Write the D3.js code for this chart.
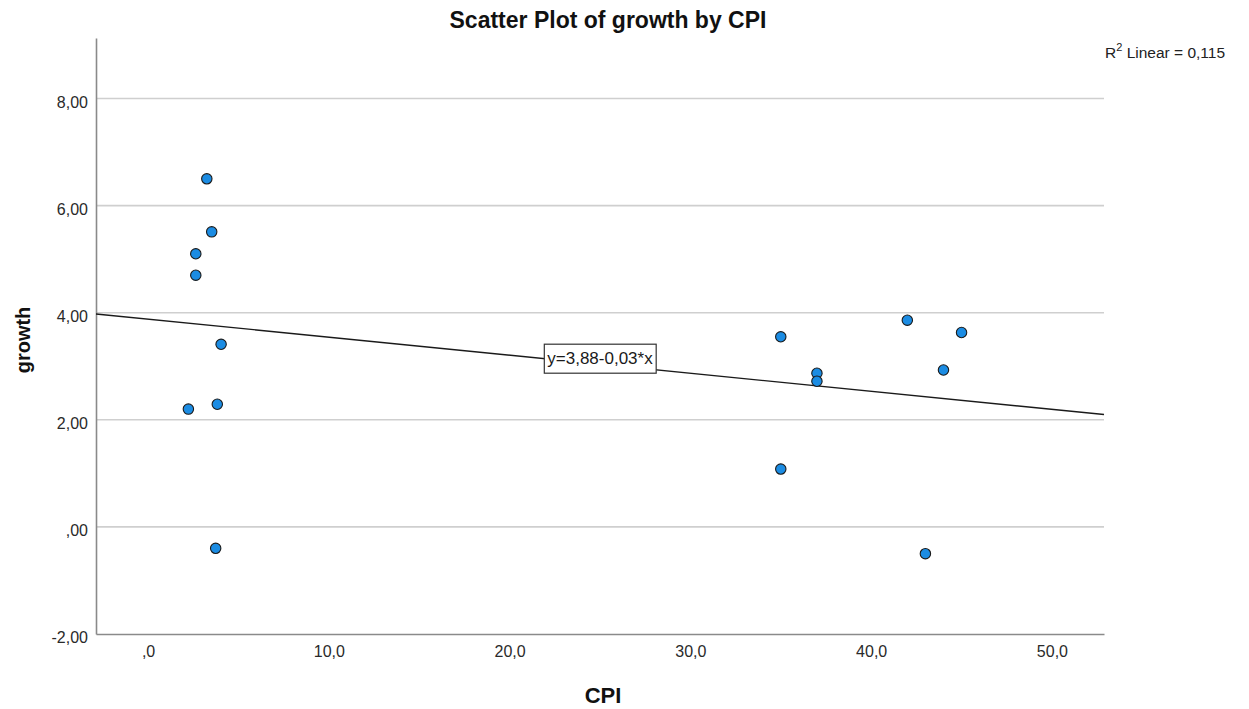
<!DOCTYPE html>
<html>
<head>
<meta charset="utf-8">
<script src="https://cdn.jsdelivr.net/npm/d3@7"></script>
<style>
  html, body { margin: 0; padding: 0; background: #fff; }
  svg { display: block; font-family: "Liberation Sans", Arial, sans-serif; }
</style>
</head>
<body>
<svg id="chart" width="1249" height="709"></svg>
<script>
// ---- data ----
const cpi    = [3.25, 3.52, 2.64, 2.64, 4.04, 2.23, 3.83, 3.74, 35, 37, 37, 42, 45, 44, 35, 43];
const growth = [6.50, 5.51, 5.10, 4.70, 3.41, 2.20, 2.29, -0.40, 3.55, 2.87, 2.72, 3.86, 3.63, 2.93, 1.08, -0.50];
const xTicks = [0, 10, 20, 30, 40, 50];
const yTicks = [-2, 0, 2, 4, 6, 8];
const fitIntercept = 3.88;
const fitSlope = -0.0337;
const fitLabel = "y=3,88-0,03*x";
const r2Label = "0,115";
const titleText = "Scatter Plot of growth by CPI";

const svg = d3.select("#chart");
const L = 96, R = 1104, T = 38, B = 634;

const x = d3.scaleLinear().domain([-2.88, 52.88]).range([L, R]);
const y = d3.scaleLinear().domain([-2, 9.13]).range([B, T]);

const fmtX = v => (v === 0 ? ",0" : d3.format(".1f")(v).replace(".", ","));
const fmtY = v => {
  if (v === 0) return ",00";
  return d3.format(".2f")(v).replace(".", ",").replace("−", "-");
};

// gridlines
svg.append("g")
  .selectAll("line")
  .data(yTicks.filter(v => v !== -2))
  .join("line")
  .attr("x1", L).attr("x2", R)
  .attr("y1", d => y(d)).attr("y2", d => y(d))
  .attr("stroke", "#cfcfcf").attr("stroke-width", 1.6);

// axes
const xAxis = d3.axisBottom(x).tickValues(xTicks).tickFormat(fmtX).tickSize(0).tickPadding(12);
const gx = svg.append("g").attr("transform", `translate(0,${B})`).call(xAxis);
gx.select(".domain").attr("stroke", "#8a8a8a").attr("stroke-width", 1.6);
gx.selectAll("text").attr("font-size", 16).attr("fill", "#2a2a2a").attr("font-family", "Liberation Sans, Arial, sans-serif");

const yAxis = d3.axisLeft(y).tickValues(yTicks).tickFormat(fmtY).tickSize(0).tickPadding(8);
const gy = svg.append("g").attr("transform", `translate(${L},0)`).call(yAxis);
gy.select(".domain").attr("stroke", "#8a8a8a").attr("stroke-width", 1.6);
gy.selectAll("text").attr("font-size", 16).attr("fill", "#2a2a2a")
  .attr("font-family", "Liberation Sans, Arial, sans-serif")
  .attr("dy", "0.55em");

// fit line
const x0 = x.domain()[0], x1 = x.domain()[1];
svg.append("line")
  .attr("x1", x(x0)).attr("y1", y(fitIntercept + fitSlope * x0))
  .attr("x2", x(x1)).attr("y2", y(fitIntercept + fitSlope * x1))
  .attr("stroke", "#1a1a1a").attr("stroke-width", 1.4);

// points
svg.append("g")
  .selectAll("circle")
  .data(cpi.map((c, i) => [c, growth[i]]))
  .join("circle")
  .attr("cx", d => x(d[0])).attr("cy", d => y(d[1]))
  .attr("r", 5.2)
  .attr("fill", "#1b8ce3")
  .attr("stroke", "#1a1a1a").attr("stroke-width", 1.1);

// equation label box
const lx = 25;
const ly = fitIntercept + fitSlope * lx;
const lab = svg.append("g").attr("transform", `translate(${x(lx)},${y(ly) - 6})`);
const labText = lab.append("text")
  .attr("text-anchor", "middle").attr("dy", "0.35em")
  .attr("font-size", 17).attr("fill", "#1a1a1a")
  .text(fitLabel);
const bb = labText.node().getBBox();
lab.insert("rect", "text")
  .attr("x", bb.x - 3).attr("y", bb.y - 5)
  .attr("width", bb.width + 6).attr("height", bb.height + 10)
  .attr("fill", "#fff").attr("stroke", "#333").attr("stroke-width", 1.2);

// title
svg.append("text")
  .attr("x", 608).attr("y", 28)
  .attr("text-anchor", "middle")
  .attr("font-size", 23).attr("font-weight", "bold").attr("fill", "#111")
  .text(titleText);

// R^2 annotation
const r2 = svg.append("text").attr("x", 1105).attr("y", 58)
  .attr("font-size", 15.5).attr("fill", "#222");
r2.append("tspan").text("R");
r2.append("tspan").attr("font-size", 11).attr("dy", -7).text("2");
r2.append("tspan").attr("dy", 7).text(" Linear = " + r2Label);

// axis titles
svg.append("text")
  .attr("x", 603).attr("y", 703)
  .attr("text-anchor", "middle")
  .attr("font-size", 22).attr("font-weight", "bold").attr("fill", "#111")
  .text("CPI");

svg.append("text")
  .attr("transform", "translate(30,340) rotate(-90)")
  .attr("text-anchor", "middle")
  .attr("font-size", 20).attr("font-weight", "bold").attr("fill", "#111")
  .text("growth");
</script>
</body>
</html>
